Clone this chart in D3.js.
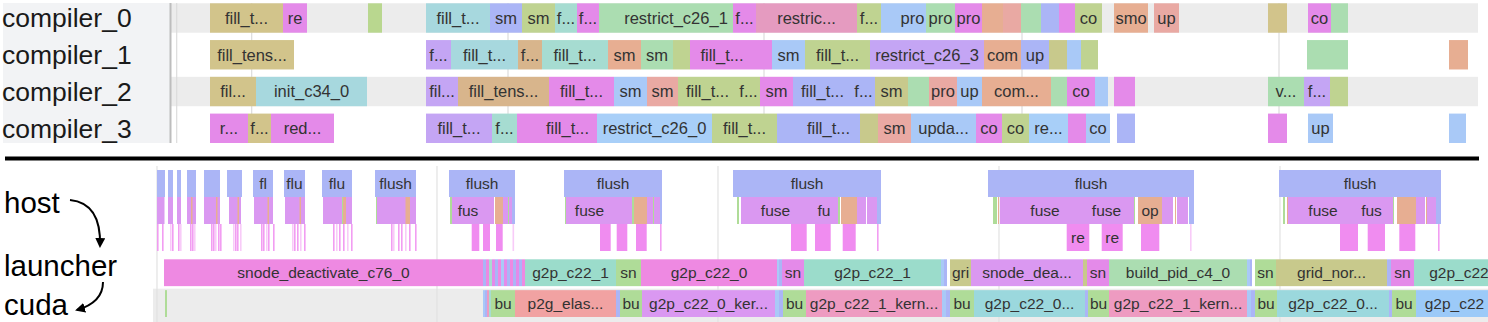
<!DOCTYPE html>
<html>
<head>
<meta charset="utf-8">
<script src="https://cdn.jsdelivr.net/npm/d3@7"></script>
<style>
  html, body { margin: 0; padding: 0; background: #fff; }
  svg { display: block; font-family: "Liberation Sans", Arial, sans-serif; }
</style>
</head>
<body>
<svg id="chart" width="1488" height="322"></svg>
<script>
// time is in trace units (ms)
var compilers = ["compiler_0", "compiler_1", "compiler_2", "compiler_3"];

var compiler0 = [
  [60, 133, "fill_t...", "olive"], [133, 157, "re", "mag"], [218, 232, "", "ygreen"],
  [276, 340, "fill_t...", "cyan"], [340, 372, "sm", "lav"], [372, 405, "sm", "ogreen"],
  [405, 427, "f...", "teal"], [427, 449, "f...", "mag"], [449, 469, "", "mint"],
  [469, 583, "restrict_c26_1", "mint"], [583, 606, "f...", "mag"], [606, 707, "restric...", "pink"],
  [707, 731, "f...", "ogreen"], [731, 749, "", "lblue"], [749, 776, "pro", "lblue"],
  [776, 805, "pro", "mint"], [805, 832, "pro", "mag"], [832, 853, "", "salmon"],
  [853, 871, "", "rose"], [871, 891, "", "mint"], [891, 909, "", "lav"], [909, 925, "", "mag"],
  [925, 952, "co", "ogreen"], [964, 998, "smo", "salmon"], [1004, 1029, "up", "rose"],
  [1118, 1137, "", "olive"], [1158, 1181, "co", "mag"], [1181, 1198, "", "mint"]
];
var compiler1 = [
  [60, 144, "fill_tens...", "olive"], [276, 301, "f...", "purple"], [301, 368, "fill_t...", "cyan"],
  [368, 392, "f...", "tan"], [392, 458, "fill_t...", "teal"], [458, 491, "sm", "salmon"],
  [491, 523, "sm", "mint"], [523, 540, "", "ogreen"], [540, 604, "fill_t...", "mag"],
  [604, 622, "", "mag"], [622, 655, "sm", "lblue"], [655, 720, "fill_t...", "ogreen"],
  [720, 834, "restrict_c26_3", "purple"], [834, 871, "com", "salmon"], [871, 899, "up", "lav"],
  [899, 917, "", "olive2"], [917, 931, "", "lblue"], [931, 948, "", "ogreen"],
  [1157, 1198, "", "mint"], [1299, 1318, "", "salmon"]
];
var compiler2 = [
  [60, 106, "fil...", "olive"], [106, 217, "init_c34_0", "cyan"], [276, 308, "fil...", "purple"],
  [308, 399, "fill_tens...", "tan"], [399, 464, "fill_t...", "mag"], [464, 497, "sm", "lblue"],
  [497, 528, "sm", "rose"], [528, 587, "fill_t...", "ogreen"], [587, 610, "f...", "ogreen"],
  [610, 643, "sm", "mag"], [643, 702, "fill_t...", "lav"], [702, 725, "f...", "lav"],
  [725, 758, "sm", "olive2"], [758, 779, "", "mint"], [779, 807, "pro", "rose"],
  [807, 832, "up", "lblue"], [832, 901, "com...", "salmon"], [901, 917, "", "mint"],
  [917, 945, "co", "mag"], [945, 958, "", "lblue"], [964, 985, "", "mag"],
  [1118, 1154, "v...", "mint"], [1154, 1180, "f...", "purple"], [1180, 1198, "", "ogreen"]
];
var compiler3 = [
  [60, 98, "r...", "mag"], [98, 121, "f...", "olive"], [121, 184, "red...", "mag"],
  [276, 342, "fill_t...", "purple"], [342, 367, "f...", "teal"], [367, 388, "", "mag"],
  [388, 447, "fill_t...", "mag"], [447, 562, "restrict_c26_0", "lblue2"], [562, 627, "fill_t...", "ogreen"],
  [627, 647, "", "lav"], [647, 710, "fill_t...", "lav"], [710, 728, "", "olive2"],
  [728, 761, "sm", "rose"], [761, 826, "upda...", "lblue"], [826, 852, "co", "mag"],
  [852, 879, "co", "ogreen"], [879, 918, "re...", "lblue2"], [918, 936, "", "mag"],
  [936, 960, "co", "lblue"], [967, 985, "", "lav"], [1118, 1137, "", "mag"],
  [1158, 1183, "up", "lblue"], [1299, 1316, "", "lblue"]
];
var compilerRows = [compiler0, compiler1, compiler2, compiler3];
var topGrid = [26.7, 101.7, 358, 614, 872, 1129];

// host: three stack levels
var flushEvents = [
  [7, 15, ""], [18, 23, ""], [27, 31, ""], [37, 46, ""], [54, 70, ""], [77, 92, ""],
  [103, 123, "fl"], [134, 155, "flu"], [172, 202, "flu"], [225, 266, "flush"],
  [299, 365, "flush"], [414, 512, "flush"], [583, 731, "flush"], [838, 1044, "flush"],
  [1129, 1291, "flush"]
];
var fuseEvents = [
  [7, 14.5, "", "fuse"], [18, 23, "", "fuse"], [27, 31, "", "fuse"], [37, 46, "", "fuse"],
  [41, 42.5, "", "salmon"], [54, 70, "", "fuse"], [66, 67.5, "", "salmon"], [79, 91, "", "fuse"],
  [87.5, 89, "", "salmon"], [104, 123, "", "fuse"], [117.5, 119, "", "salmon"],
  [135, 155, "", "fuse"], [149.5, 151, "", "salmon"], [173, 202, "", "fuse"],
  [192.5, 196, "", "salmon"], [192, 193, "", "green"], [226, 266, "", "fuse"],
  [226, 227, "", "green"], [255.5, 260, "", "salmon"],
  [300, 302, "", "green"], [302, 334, "fus", "fuse"], [334, 344, "", "fuse"], [345, 353, "", "salmon"],
  [353, 358, "", "fuse"], [358, 359, "", "green"], [359, 362, "", "fuse"], [362, 365, "", "lav"],
  [415, 416, "", "green"], [416, 463, "fuse", "fuse"], [463, 482, "", "fuse"], [482, 484, "", "green"],
  [484, 497, "", "salmon"], [497, 503, "", "fuse"], [503, 504, "", "green"], [504, 510, "", "fuse"],
  [510, 512, "", "lav"],
  [587, 589, "", "green"], [591, 660, "fuse", "fuse"], [660, 688, "fu", "fuse"], [688, 690, "", "green"],
  [691, 707, "", "salmon"], [707, 716, "", "fuse"], [717, 727, "", "fuse"], [727, 731, "", "lav"],
  [843, 847, "", "green"], [848, 849, "", "salmon"], [850, 940, "fuse", "fuse"], [940, 973, "fuse", "fuse"],
  [973, 984, "", "fuse"], [984, 985, "", "green"], [988, 1012, "op", "salmon"], [1012, 1023, "", "fuse"],
  [1025, 1026, "", "salmon"], [1027, 1038, "", "fuse"], [1039, 1044, "", "lav"],
  [1133, 1135, "", "green"], [1137, 1138, "", "salmon"], [1138, 1208, "fuse", "fuse"],
  [1208, 1235, "fus", "fuse"], [1235, 1243, "", "fuse"], [1243, 1244, "", "green"],
  [1247, 1266, "", "salmon"], [1266, 1275, "", "fuse"], [1276, 1277, "", "salmon"],
  [1277, 1286, "", "fuse"], [1286, 1291, "", "lav"]
];
var leafEvents = [
  [321.7, 329.3, ""], [333, 340, ""], [346, 352.7, ""],
  [450, 460.7, ""], [466.7, 477.3, ""], [486, 496.7, ""],
  [641, 656.7, ""], [665, 680.7, ""], [692.7, 705.7, ""],
  [916.7, 939.3, "re"], [951.7, 972.7, "re"], [991, 1009.3, ""],
  [1190, 1208, ""], [1217.7, 1235, ""], [1249.3, 1265.3, ""]
];
var leafTicks = [
  7, 12, 20, 22, 28, 30, 40, 42, 44, 61, 63, 65, 68, 70, 83, 85, 87, 90,
  111, 113, 116, 118, 123, 142, 144, 147, 150, 154, 183, 186, 189, 193, 197, 201,
  241, 243, 248, 251, 255, 259, 265, 362.5, 510, 727, 1040, 1288
];

var launcherEvents = [
  [14, 333, "snode_deactivate_c76_0", "pinkL"],
  [333, 336, "", "lav"], [336, 339, "", "pinkL"], [339, 342, "", "teal"], [342, 345, "", "mag"],
  [345, 348, "", "lav"], [348, 351, "", "pinkL"], [351, 354, "", "lblue"], [354, 357, "", "mag"],
  [357, 360, "", "lav"], [360, 363, "", "pinkL"], [363, 366, "", "lav"], [366, 369, "", "mag"],
  [369, 372, "", "lav"], [372, 375, "", "pinkL"],
  [375, 466, "g2p_c22_1", "tealL"], [466, 491, "sn", "green"], [491, 627, "g2p_c22_0", "pinkL"],
  [627, 629, "", "lblue"], [629, 632, "", "lav"], [632, 654, "sn", "mag"],
  [654, 791, "g2p_c22_1", "tealL"], [791, 794, "", "lblue"], [794, 797, "", "lav"],
  [800, 821, "gri", "olive2"], [821, 933, "snode_dea...", "fuse"], [933, 937, "", "olive2"],
  [937, 959, "sn", "mag"], [959, 1097, "build_pid_c4_0", "mint"], [1097, 1100, "", "lblue"],
  [1100, 1102, "", "lav"], [1105, 1126, "sn", "green"], [1126, 1237, "grid_nor...", "olive2"],
  [1237, 1241, "", "lav"], [1241, 1264, "sn", "mag"], [1264, 1354, "g2p_c22", "tealL"]
];
var cudaEvents = [
  [15, 17, "", "green"],
  [333, 335, "", "lblue"], [335, 337, "", "lav"], [337, 339, "", "pinkC"], [339, 341, "", "teal"],
  [341, 365, "bu", "green"], [365, 466, "p2g_elas...", "red"], [466, 470, "", "lav"],
  [470, 492, "bu", "green"], [492, 625, "g2p_c22_0_ker...", "fuse"], [625, 629, "", "lblue"],
  [629, 633, "", "lav"], [633, 656, "bu", "green"], [656, 792, "g2p_c22_1_kern...", "pinkC"],
  [792, 796, "", "lblue"], [796, 800, "", "lav"], [800, 824, "bu", "green"],
  [824, 935, "g2p_c22_0...", "cyanC"], [935, 938, "", "lav"], [938, 959, "bu", "green"],
  [959, 1097, "g2p_c22_1_kern...", "pinkC"], [1097, 1101, "", "lblue"], [1101, 1105, "", "lav"],
  [1105, 1127, "bu", "green"], [1127, 1239, "g2p_c22_0...", "cyanC"], [1239, 1242, "", "lav"],
  [1242, 1266, "bu", "green"], [1266, 1343, "g2p_c22", "blueC"]
];
var bottomGrid = [7, 287, 568, 849, 1130];

var palette = {
  olive: "#d2c48b", mag: "#e48ae9", ygreen: "#b9d78f", cyan: "#a7d8de", lav: "#abb5f6",
  ogreen: "#bfd391", teal: "#a6dcd1", mint: "#abddb1", pink: "#e59bc0", lblue: "#a9c9f7",
  lblue2: "#a8cff8", salmon: "#e7ae92", rose: "#e9a9a3", purple: "#c4a5f4", tan: "#d8b58c",
  olive2: "#c8c98c", fuse: "#da98f1", green: "#afdc98", pinkL: "#ee89e2", tealL: "#9bdccb",
  red: "#f1a2a2", pinkC: "#ee9bc1", cyanC: "#9bd8dd", blueC: "#9ccaf8", leaf: "#f08cf0"
};
var color = function(k) { return palette[k]; };

var svg = d3.select("#chart"),
    x = d3.scaleLinear().domain([0, 1340]).range([150, 1490]);

// ---------- top panel ----------
var yTop = d3.scaleBand().domain(compilers).range([3.3, 143]).paddingInner(0.2);

svg.append("rect")
    .attr("x", 3).attr("y", 3).attr("width", 167).attr("height", 140)
    .attr("fill", "#f2f3f5");

var topG = svg.append("g");

topG.selectAll("rect.band")
    .data(compilers.filter(function(d, i) { return i % 2 === 0; }))
    .enter().append("rect")
    .attr("class", "band")
    .attr("x", 171).attr("width", x(1328) - 171)
    .attr("y", function(d) { return yTop(d); })
    .attr("height", yTop.bandwidth())
    .attr("fill", "#ececec");

topG.selectAll("line.grid")
    .data(topGrid)
    .enter().append("line")
    .attr("x1", function(d) { return x(d); }).attr("x2", function(d) { return x(d); })
    .attr("y1", 3).attr("y2", 143)
    .attr("stroke", "#dcdcdc").attr("stroke-width", 1.2);

topG.append("line")
    .attr("x1", 170.5).attr("x2", 170.5).attr("y1", 3).attr("y2", 143)
    .attr("stroke", "#bdbdbd").attr("stroke-width", 2);

topG.selectAll("text.name")
    .data(compilers)
    .enter().append("text")
    .attr("x", 2)
    .attr("y", function(d) { return yTop(d) + yTop.bandwidth() / 2; })
    .attr("dy", "0.35em")
    .attr("font-size", 26.5)
    .attr("fill", "#1a1a1a")
    .text(function(d) { return d; });

compilerRows.forEach(function(rows, i) {
    var g = topG.append("g"),
        y0 = yTop(compilers[i]),
        h = yTop.bandwidth();
    g.selectAll("rect")
        .data(rows)
        .enter().append("rect")
        .attr("x", function(d) { return x(d[0]); })
        .attr("width", function(d) { return x(d[1]) - x(d[0]); })
        .attr("y", y0).attr("height", h)
        .attr("fill", function(d) { return color(d[3]); });
    g.selectAll("text")
        .data(rows.filter(function(d) { return d[2]; }))
        .enter().append("text")
        .attr("x", function(d) { return (x(d[0]) + x(d[1])) / 2; })
        .attr("y", y0 + h / 2)
        .attr("dy", "0.35em")
        .attr("text-anchor", "middle")
        .attr("font-size", 16.5)
        .attr("fill", "#333")
        .text(function(d) { return d[2]; });
});

// divider
svg.append("line")
    .attr("x1", 5).attr("x2", 1479).attr("y1", 158.5).attr("y2", 158.5)
    .attr("stroke", "#000").attr("stroke-width", 4);

// ---------- bottom panel ----------
var yHost = d3.scaleBand().domain([0, 1, 2]).range([170, 251]),
    yLane = d3.scaleBand().domain(["launcher", "cuda"]).range([259.3, 317]).paddingInner(0.13);

var bottomG = svg.append("g");

bottomG.append("rect")
    .attr("x", 153).attr("width", 1488 - 153)
    .attr("y", yLane("cuda") - 1.5).attr("height", 322 - yLane("cuda") + 1.5)
    .attr("fill", "#ececec");

bottomG.selectAll("line.grid")
    .data(bottomGrid)
    .enter().append("line")
    .attr("x1", function(d) { return x(d); }).attr("x2", function(d) { return x(d); })
    .attr("y1", 166).attr("y2", 322)
    .attr("stroke", "#e2e2e2").attr("stroke-width", 1.2);

function lane(data, y0, h, fill, size) {
    var g = bottomG.append("g");
    g.selectAll("rect")
        .data(data)
        .enter().append("rect")
        .attr("x", function(d) { return x(d[0]); })
        .attr("width", function(d) { return Math.max(1, x(d[1]) - x(d[0])); })
        .attr("y", y0).attr("height", h)
        .attr("fill", fill);
    g.selectAll("text")
        .data(data.filter(function(d) { return d[2]; }))
        .enter().append("text")
        .attr("x", function(d) { return (x(d[0]) + x(d[1])) / 2; })
        .attr("y", y0 + h / 2)
        .attr("dy", "0.36em")
        .attr("text-anchor", "middle")
        .attr("font-size", size)
        .attr("fill", "#333")
        .text(function(d) { return d[2]; });
}

lane(flushEvents, yHost(0), yHost.bandwidth(), palette.lav, 15.5);
lane(fuseEvents, yHost(1), yHost.bandwidth(), function(d) { return color(d[3]); }, 15.5);
bottomG.append("g").selectAll("rect")
    .data(leafTicks)
    .enter().append("rect")
    .attr("x", function(d) { return x(d); })
    .attr("width", 1.6)
    .attr("y", yHost(2)).attr("height", yHost.bandwidth())
    .attr("fill", palette.leaf)
    .attr("opacity", function(d, i) { return i % 3 === 2 ? 0.45 : 0.85; });
lane(leafEvents, yHost(2), yHost.bandwidth(), palette.leaf, 15.5);
lane(launcherEvents, yLane("launcher"), yLane.bandwidth(), function(d) { return color(d[3]); }, 15.5);
lane(cudaEvents, yLane("cuda"), yLane.bandwidth(), function(d) { return color(d[3]); }, 15.5);

// lane titles and arrows
var titles = [["host", 213], ["launcher", 276], ["cuda", 315]];
svg.selectAll("text.title")
    .data(titles)
    .enter().append("text")
    .attr("x", 4)
    .attr("y", function(d) { return d[1]; })
    .attr("font-size", 29.5)
    .attr("fill", "#000")
    .text(function(d) { return d[0]; });

svg.append("defs").append("marker")
    .attr("id", "head")
    .attr("viewBox", "0 0 10 10")
    .attr("refX", 8).attr("refY", 5)
    .attr("markerWidth", 5).attr("markerHeight", 5)
    .attr("orient", "auto")
    .append("path")
    .attr("d", "M0,0L10,5L0,10z")
    .attr("fill", "#000");

svg.append("path")
    .attr("d", "M70,200C90,202 101,216 100,246")
    .attr("fill", "none").attr("stroke", "#000").attr("stroke-width", 2)
    .attr("marker-end", "url(#head)");
svg.append("path")
    .attr("d", "M103,282C103,296 94,305 77,310")
    .attr("fill", "none").attr("stroke", "#000").attr("stroke-width", 2)
    .attr("marker-end", "url(#head)");
</script>
</body>
</html>
